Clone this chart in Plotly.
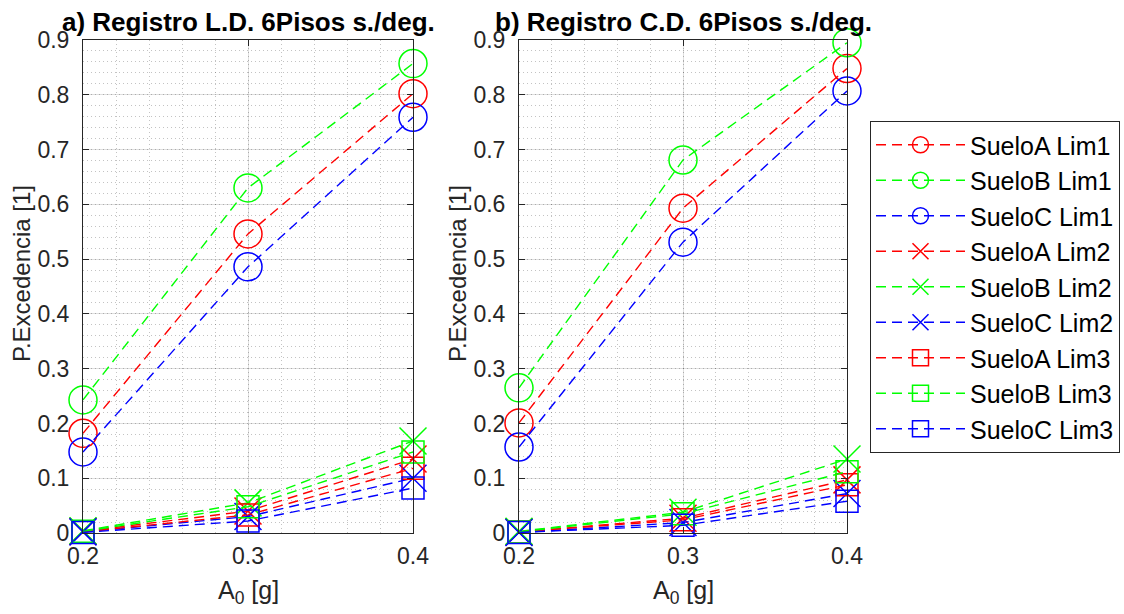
import plotly.graph_objects as go

# Peak ground acceleration levels (g)
a0 = [0.2, 0.3, 0.4]
x_tick_labels = ["0.2", "0.3", "0.4"]
y_tick_values = [0, 0.1, 0.2, 0.3, 0.4, 0.5, 0.6, 0.7, 0.8, 0.9]
y_tick_labels = ["0", "0.1", "0.2", "0.3", "0.4", "0.5", "0.6", "0.7", "0.8", "0.9"]

series_names = [
    "SueloA Lim1", "SueloB Lim1", "SueloC Lim1",
    "SueloA Lim2", "SueloB Lim2", "SueloC Lim2",
    "SueloA Lim3", "SueloB Lim3", "SueloC Lim3",
]

# a) Registro L.D. - exceedance probabilities
ld_suelo_a_lim1 = [0.182, 0.546, 0.802]
ld_suelo_b_lim1 = [0.243, 0.630, 0.857]
ld_suelo_c_lim1 = [0.148, 0.486, 0.759]
ld_suelo_a_lim2 = [0.003, 0.040, 0.135]
ld_suelo_b_lim2 = [0.004, 0.055, 0.168]
ld_suelo_c_lim2 = [0.002, 0.030, 0.100]
ld_suelo_a_lim3 = [0.002, 0.033, 0.118]
ld_suelo_b_lim3 = [0.003, 0.048, 0.148]
ld_suelo_c_lim3 = [0.001, 0.022, 0.082]

# b) Registro C.D. - exceedance probabilities
cd_suelo_a_lim1 = [0.201, 0.593, 0.848]
cd_suelo_b_lim1 = [0.265, 0.681, 0.895]
cd_suelo_c_lim1 = [0.157, 0.531, 0.807]
cd_suelo_a_lim2 = [0.002, 0.027, 0.097]
cd_suelo_b_lim2 = [0.003, 0.038, 0.135]
cd_suelo_c_lim2 = [0.001, 0.019, 0.072]
cd_suelo_a_lim3 = [0.002, 0.024, 0.088]
cd_suelo_b_lim3 = [0.002, 0.035, 0.112]
cd_suelo_c_lim3 = [0.001, 0.014, 0.058]

panel_titles = ["a) Registro L.D. 6Pisos s./deg.", "b) Registro C.D. 6Pisos s./deg."]
y_title = "P.Excedencia [1]"
x_title = "A<sub>0</sub> [g]"

ld_series = [ld_suelo_a_lim1, ld_suelo_b_lim1, ld_suelo_c_lim1,
             ld_suelo_a_lim2, ld_suelo_b_lim2, ld_suelo_c_lim2,
             ld_suelo_a_lim3, ld_suelo_b_lim3, ld_suelo_c_lim3]
cd_series = [cd_suelo_a_lim1, cd_suelo_b_lim1, cd_suelo_c_lim1,
             cd_suelo_a_lim2, cd_suelo_b_lim2, cd_suelo_c_lim2,
             cd_suelo_a_lim3, cd_suelo_b_lim3, cd_suelo_c_lim3]

colors = ["#ff0000", "#00ff00", "#0000ff"] * 3
symbols = ["circle-open"] * 3 + ["x-thin-open"] * 3 + ["square-open"] * 3
sizes = [28] * 3 + [27] * 3 + [22] * 3

W, H = 1124, 614
FONT = "Liberation Sans, Arial, Helvetica, sans-serif"
AX = "#262626"

fig = go.Figure()

for panel, data in enumerate([ld_series, cd_series]):
    xa = "x" if panel == 0 else "x2"
    ya = "y" if panel == 0 else "y2"
    for i, vals in enumerate(data):
        fig.add_trace(go.Scatter(
            x=a0, y=vals, name=series_names[i],
            mode="lines+markers",
            line=dict(color=colors[i], width=1.4, dash="10px,6px"),
            marker=dict(symbol=symbols[i], size=sizes[i], color=colors[i],
                        line=dict(width=1.5, color=colors[i])),
            cliponaxis=False,
            showlegend=(panel == 0),
            xaxis=xa, yaxis=ya,
        ))

x_dom = [[83 / W, 413 / W], [519 / W, 847 / W]]
y_dom = [1 - 533 / H, 1 - 40 / H]

minor_grid = dict(dtick=0.02, tick0=0, showgrid=True, ticks="",
                  gridcolor="rgba(38,38,38,0.28)", griddash="1px,3px", gridwidth=1)

common = dict(
    automargin=False,
    showline=True, linecolor=AX, linewidth=1, mirror="ticks",
    ticks="inside", ticklen=6, tickwidth=1, tickcolor=AX,
    showgrid=True, gridcolor="rgba(38,38,38,0.15)", gridwidth=1,
    zeroline=False,
    tickfont=dict(family=FONT, size=23, color=AX),
    minor=minor_grid,
)

for k in range(2):
    sfx = "" if k == 0 else "2"
    fig.update_layout(**{
        "xaxis" + sfx: dict(
            common, domain=x_dom[k], range=[0.2, 0.4],
            tickvals=a0, ticktext=x_tick_labels, anchor="y" + sfx,
            ticklabelstandoff=2,
        ),
        "yaxis" + sfx: dict(
            common, domain=y_dom, range=[0, 0.9],
            tickvals=y_tick_values, ticktext=y_tick_labels, anchor="x" + sfx,
            ticklabelstandoff=8,
        ),
    })

annotations = []
centers = [248, 683]
ylab_x = [21, 457]
for k in range(2):
    annotations.append(dict(
        text="<b>" + panel_titles[k] + "</b>", xref="paper", yref="paper",
        x=centers[k] / W, y=1 - 22 / H, xanchor="center", yanchor="middle",
        showarrow=False, font=dict(family=FONT, size=26, color="#000000"),
    ))
    annotations.append(dict(
        text=x_title, xref="paper", yref="paper",
        x=centers[k] / W, y=1 - 592 / H, xanchor="center", yanchor="middle",
        showarrow=False, font=dict(family=FONT, size=25, color=AX),
    ))
    annotations.append(dict(
        text=y_title, xref="paper", yref="paper", textangle=-90,
        x=ylab_x[k] / W, y=1 - 274 / H, xanchor="center", yanchor="middle",
        showarrow=False, font=dict(family=FONT, size=24, color=AX),
    ))

fig.update_layout(
    width=W, height=H,
    margin=dict(l=0, r=0, t=0, b=0, autoexpand=False),
    paper_bgcolor="white", plot_bgcolor="white",
    annotations=annotations,
    legend=dict(
        x=870 / W, y=1 - 121 / H, xanchor="left", yanchor="top",
        bgcolor="white", bordercolor=AX, borderwidth=1,
        font=dict(family=FONT, size=25, color="#000000"),
        itemwidth=89, tracegroupgap=0,
    ),
)

fig.write_html("out.html")
